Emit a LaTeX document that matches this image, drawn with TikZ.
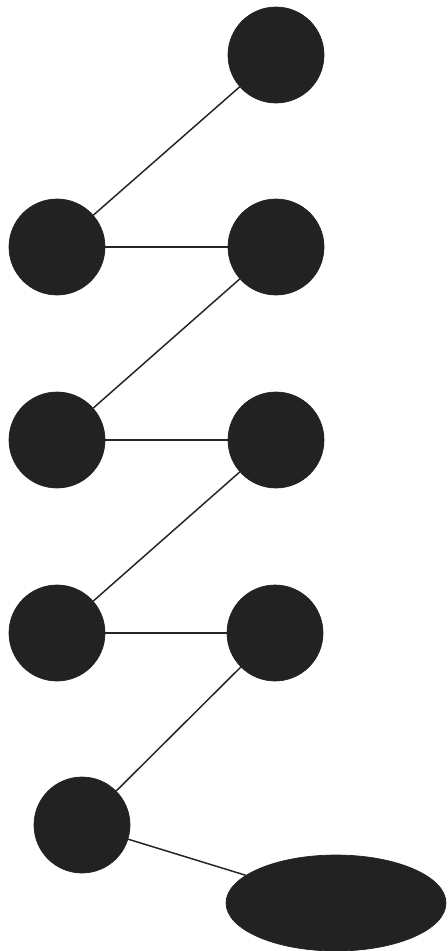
\documentclass[tikz,border=0pt]{standalone}
\usepackage{tikz}
\usetikzlibrary{shapes, shapes.geometric, positioning, calc}
\definecolor{dotgray}{RGB}{34, 34, 34}
\tikzset{
  dotnode/.style={circle, fill=dotgray, draw=dotgray, minimum size=1.92cm, inner sep=0pt},
  eggnode/.style={ellipse, fill=dotgray, draw=dotgray, minimum width=4.4cm, minimum height=1.92cm, inner sep=0pt},
  linkline/.style={line width=0.85pt, black!85},
}
\begin{document}
\begin{tikzpicture}[x=0.02cm, y=-0.02cm]
  \useasboundingbox (0,0) rectangle (447,951);
  \node[dotnode] (a1) at (276,55) {};
  \node[dotnode] (b1) at (57,247) {};
  \node[dotnode] (b2) at (276,247) {};
  \node[dotnode] (c1) at (57,440) {};
  \node[dotnode] (c2) at (276,440) {};
  \node[dotnode] (d1) at (57,633) {};
  \node[dotnode] (d2) at (275,633) {};
  \node[dotnode] (e1) at (82,825) {};
  \node[eggnode] (e2) at (336,903) {};
  \draw[linkline] (a1)--(b1);
  \draw[linkline] (b1)--(b2);
  \draw[linkline] (b2)--(c1);
  \draw[linkline] (c1)--(c2);
  \draw[linkline] (c2)--(d1);
  \draw[linkline] (d1)--(d2);
  \draw[linkline] (d2)--(e1);
  \draw[linkline] (e1)--(e2);
\end{tikzpicture}
\end{document}
